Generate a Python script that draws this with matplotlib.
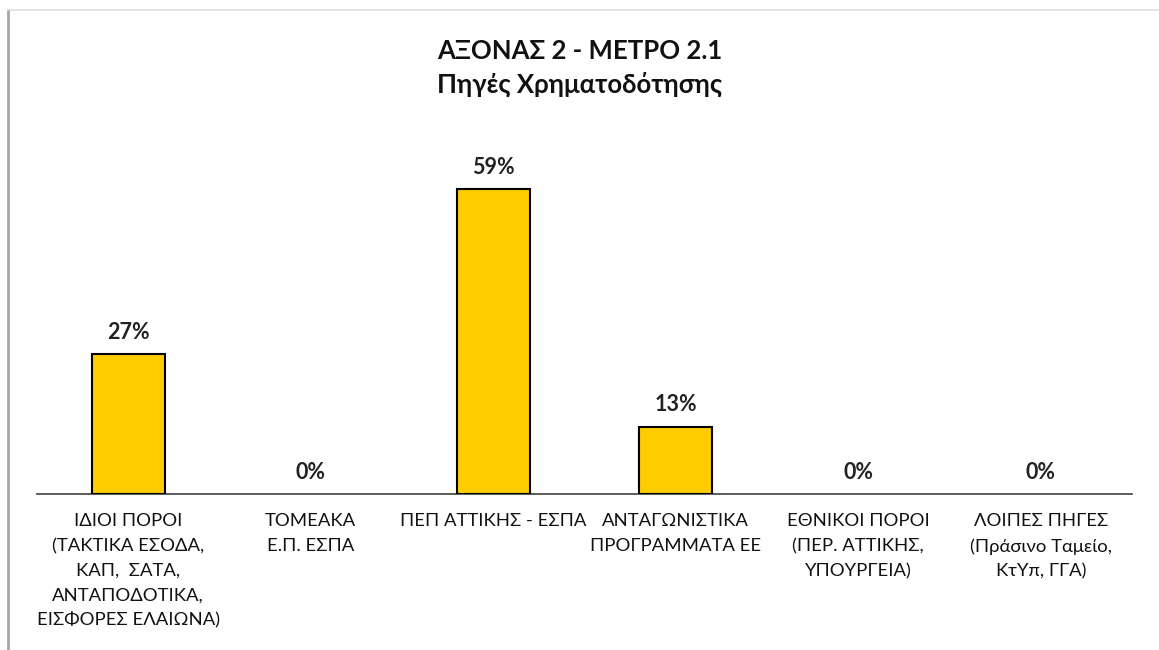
import matplotlib
matplotlib.use("Agg")
import matplotlib.pyplot as plt
from matplotlib.lines import Line2D

plt.rcParams['font.family'] = ['Lato', 'Open Sans', 'DejaVu Sans']

categories = [
    "ΙΔΙΟΙ ΠΟΡΟΙ\n(ΤΑΚΤΙΚΑ ΕΣΟΔΑ,\nΚΑΠ,  ΣΑΤΑ,\nΑΝΤΑΠΟΔΟΤΙΚΑ,\nΕΙΣΦΟΡΕΣ ΕΛΑΙΩΝΑ)",
    "ΤΟΜΕΑΚΑ\nΕ.Π. ΕΣΠΑ",
    "ΠΕΠ ΑΤΤΙΚΗΣ - ΕΣΠΑ",
    "ΑΝΤΑΓΩΝΙΣΤΙΚΑ\nΠΡΟΓΡΑΜΜΑΤΑ ΕΕ",
    "ΕΘΝΙΚΟΙ ΠΟΡΟΙ\n(ΠΕΡ. ΑΤΤΙΚΗΣ,\nΥΠΟΥΡΓΕΙΑ)",
    "ΛΟΙΠΕΣ ΠΗΓΕΣ\n(Πράσινο Ταμείο,\nΚτΥπ, ΓΓΑ)",
]
values = [0.27, 0.0, 0.59, 0.13, 0.0, 0.0]
title = "ΑΞΟΝΑΣ 2 - ΜΕΤΡΟ 2.1\nΠηγές Χρηματοδότησης"

fig = plt.figure(figsize=(11.59, 6.5), dpi=100)
fig.patch.set_facecolor('white')

# outer chart border
fig.add_artist(Line2D([8/1159, 8/1159], [0, 1 - 10/650], color='#a6a6a6', lw=2, transform=fig.transFigure))
fig.add_artist(Line2D([8/1159, 1], [1 - 10/650, 1 - 10/650], color='#e0e0e0', lw=1.2, transform=fig.transFigure))

ax = fig.add_axes([37/1159, 156/650, 1095/1159, 362/650])
x = list(range(len(values)))
bars = ax.bar(x, values, width=0.4, color='#ffcc00', edgecolor='black', linewidth=1.5, zorder=3)
for b, v in zip(bars, values):
    if v == 0:
        b.set_linewidth(0)
ax.set_xlim(-0.5, len(values) - 0.5)
ax.set_ylim(0, 0.70)

for xi, v in zip(x, values):
    ax.text(xi, v + 0.022, f"{round(v*100)}%", ha='center', va='bottom',
            fontsize=15.5, fontweight='bold', color='#222222')

ax.set_xticks(x)
ax.set_xticklabels(categories, fontsize=13.3, linespacing=1.66, color='#111111', va='top')
ax.tick_params(axis='x', length=0, pad=14)
ax.set_yticks([])
for s in ['left', 'right', 'top']:
    ax.spines[s].set_visible(False)
ax.spines['bottom'].set_color('#404040')
ax.spines['bottom'].set_linewidth(1.2)

fig.text(0.5, 1 - 68/650, title, ha='center', va='center', fontsize=18.5,
         fontweight='bold', linespacing=1.45, color='#111111')

fig.savefig("out.png", dpi=100, facecolor='white')
